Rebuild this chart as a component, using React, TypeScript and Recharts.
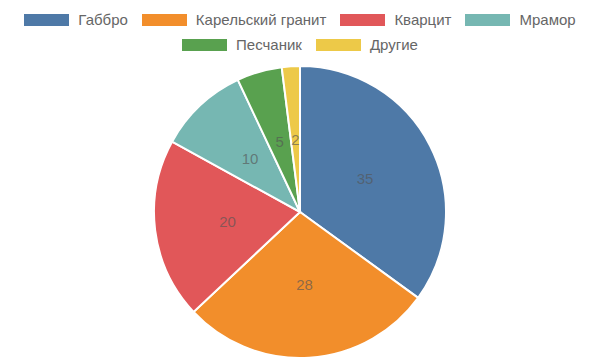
import React from 'react';
import { PieChart, Pie, Cell } from 'recharts';

const rocks = ['Габбро', 'Карельский гранит', 'Кварцит', 'Мрамор', 'Песчаник', 'Другие'];
const shares = [35, 28, 20, 10, 5, 2];
const colors = ['#4e79a7', '#f28e2b', '#e15759', '#76b7b2', '#59a14f', '#edc948'];

const data = rocks.map((name, i) => ({ name, value: shares[i] }));

const RADIAN = Math.PI / 180;
const FONT = '"Liberation Sans", Arial, sans-serif';

// value labels sit halfway out, slightly see-through like the original
const renderLabel = (props: any) => {
  const { cx, cy, midAngle, outerRadius, value } = props;
  const r = outerRadius * 0.5;
  const x = cx + r * Math.cos(-midAngle * RADIAN);
  const y = cy + r * Math.sin(-midAngle * RADIAN);
  return (
    <text x={x} y={y} fill="#555" fillOpacity={0.65} fontSize={15} textAnchor="middle" dominantBaseline="central">
      {value}
    </text>
  );
};

const LegendRow = ({ items, top }: { items: number[]; top: number }) => (
  <div
    style={{
      position: 'absolute',
      left: 0,
      top,
      width: 600,
      height: 20,
      display: 'flex',
      justifyContent: 'center',
      alignItems: 'center',
      gap: 14,
    }}
  >
    {items.map((i) => (
      <div key={rocks[i]} style={{ display: 'flex', alignItems: 'center' }}>
        <span style={{ display: 'inline-block', width: 45, height: 12, background: colors[i], marginRight: 9 }} />
        <span style={{ color: '#666', fontSize: 15, lineHeight: '20px' }}>{rocks[i]}</span>
      </div>
    ))}
  </div>
);

export default function App() {
  return (
    <div style={{ position: 'absolute', left: 0, top: 0, width: 600, height: 360, background: '#fff', fontFamily: FONT }}>
      <LegendRow items={[0, 1, 2, 3]} top={10} />
      <LegendRow items={[4, 5]} top={35} />
      <div style={{ position: 'absolute', left: 0, top: 0 }}>
        <PieChart width={600} height={360} margin={{ top: 0, right: 0, bottom: 0, left: 0 }} style={{ fontFamily: FONT }}>
          <Pie
            data={data}
            dataKey="value"
            nameKey="name"
            cx={300}
            cy={212}
            outerRadius={146}
            startAngle={90}
            endAngle={-270}
            stroke="#fff"
            strokeWidth={2}
            label={renderLabel}
            labelLine={false}
            isAnimationActive={false}
          >
            {data.map((d, i) => (
              <Cell key={d.name} fill={colors[i]} />
            ))}
          </Pie>
        </PieChart>
      </div>
    </div>
  );
}
